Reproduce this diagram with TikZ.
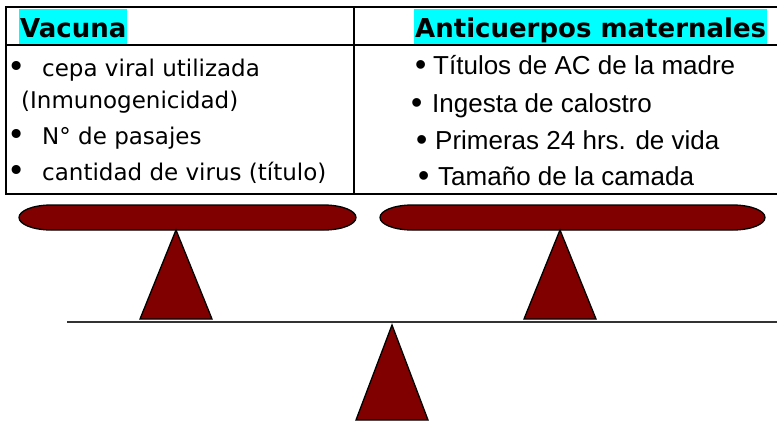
\documentclass[tikz,border=0pt]{standalone}
\usepackage{fontspec}
\usepackage{tikz}
\usepackage{xcolor}
\setmainfont{DejaVu Sans}
\newfontfamily\arialfont{Liberation Sans}
\definecolor{plate-red}{RGB}{128,0,0}
\definecolor{head-cyan}{RGB}{0,255,255}
\tikzset{
    head-box/.style = {fill=head-cyan, font=\bfseries\fontsize{26}{30}\selectfont, inner xsep=1pt, inner ysep=0pt, text height=28pt, text depth=7pt, anchor=base west},
    item-left/.style = {font=\fontsize{23}{27}\selectfont, inner sep=0pt, anchor=base west},
    dot-left/.style = {font=\fontsize{31}{27}\selectfont, inner sep=0pt, anchor=base west},
    item-right/.style = {font=\arialfont\fontsize{26}{30}\selectfont, inner sep=0pt, anchor=base west},
    dot-right/.style = {font=\arialfont\fontsize{32}{30}\selectfont, inner sep=0pt, anchor=base west},
    rule/.style = {line width=2pt},
    thin-rule/.style = {line width=1.4pt},
    plate/.style = {fill=plate-red, draw=black, line width=1.3pt},
    beam/.style = {draw=black!80, line width=2pt},
}

\begin{document}
\begin{tikzpicture}[x=1pt, y=-1pt]
\useasboundingbox (0,0) rectangle (777,421);
% table
\draw[rule] (777,7) -- (6,7) -- (6,194) -- (777,194);
\draw[rule] (6,45) -- (777,45);
\draw[thin-rule] (354,7) -- (354,194);
\node[head-box] (vacuna) at (19,37) {Vacuna};
\node[head-box] (maternales) at (414,37) {Anticuerpos maternales};
% left column
\node[dot-left] (dot-cepa) at (7,77) {•};
\node[item-left] (cepa) at (42,76) {cepa viral utilizada};
\node[item-left] (inmuno) at (21,108) {(Inmunogenicidad)};
\node[dot-left] (dot-pasajes) at (7,145) {•};
\node[item-left] (pasajes) at (42,144) {N° de pasajes};
\node[dot-left] (dot-virus) at (7,181) {•};
\node[item-left] (virus) at (42,180) {cantidad de virus (título)};
% right column
\node[dot-right] (dot-titulos) at (415,75) {•};
\node[item-right] (titulos) at (433,74) {Títulos de AC de la madre};
\node[dot-right] (dot-calostro) at (411,113) {•};
\node[item-right] (calostro) at (432,112) {Ingesta de calostro};
\node[dot-right] (dot-horas) at (416,150) {•};
\node[item-right] (horas) at (435,149) {Primeras 24 hrs. de vida};
\node[dot-right] (dot-camada) at (418,186) {•};
\node[item-right] (camada) at (438,185) {Tamaño de la camada};
% balance
\draw[plate] (51,205) -- (324,205) arc[start angle=-90, end angle=90, x radius=32, y radius=12.5]
    -- (51,230) arc[start angle=90, end angle=270, x radius=32, y radius=12.5] -- cycle;
\draw[plate] (412,205) -- (733,205) arc[start angle=-90, end angle=90, x radius=32, y radius=12.5]
    -- (412,230) arc[start angle=90, end angle=270, x radius=32, y radius=12.5] -- cycle;
\draw[plate] (176,230) -- (212,319) -- (140,319) -- cycle;
\draw[plate] (560,230) -- (596,319) -- (524,319) -- cycle;
\draw[beam] (67,322) -- (777,322);
\draw[plate] (392,325) -- (428,420) -- (356,420) -- cycle;
\end{tikzpicture}
\end{document}
